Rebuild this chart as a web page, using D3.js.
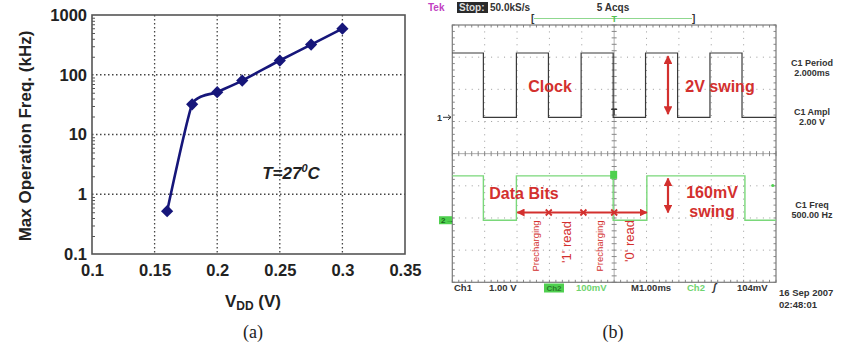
<!DOCTYPE html>
<html><head><meta charset="utf-8">
<script src="https://cdn.jsdelivr.net/npm/d3@7"></script>
<style>body{margin:0;background:#fff}svg{display:block}</style>
</head><body><svg id="c" width="841" height="347"></svg>
<script>
// ---------- (a) data ----------
const vdd = [0.16, 0.18, 0.2, 0.22, 0.25, 0.275, 0.3];
const freq = [0.52, 32, 51, 80, 173, 320, 590];
const xTicks = [0.1, 0.15, 0.2, 0.25, 0.3, 0.35];
const xTickLabels = ["0.1", "0.15", "0.2", "0.25", "0.3", "0.35"];
const yTicks = [0.1, 1, 10, 100, 1000];
const yTickLabels = ["0.1", "1", "10", "100", "1000"];

// ---------- (b) data (time in ms, 1 ms/div) ----------
const clockStarts = [-5, -4.04, -3.02, -2.03, -1.02, -0.03, 0.97, 1.96, 2.96, 3.95];
const clockLevels = [2, 0, 2, 0, 2, 0, 2, 0, 2, 0];      // V
const dataStarts = [-5, -4.04, -3.02, -0.03, 1.01, 4.04];
const dataLevels = [138, 0, 138, 0, 138, 0];              // mV
const phaseSpan = [-2.99, 1.01];
const phaseMarks = [-2.02, -0.95, 0];

const svg = d3.select("#c");
svg.append("rect").attr("width", 841).attr("height", 347).attr("fill", "#fff");

// ================= (a) =================
const x = d3.scaleLinear().domain([0.1, 0.35]).range([92, 405]);
const y = d3.scaleLog().domain([0.1, 1000]).range([254, 15]);
const A = svg.append("g");
const bold = "'Liberation Sans', Arial, sans-serif";

// grid
A.append("g").selectAll("line").data(xTicks.slice(1, -1)).join("line")
  .attr("x1", d => x(d)).attr("x2", d => x(d)).attr("y1", 15).attr("y2", 254)
  .attr("stroke", "#444").attr("stroke-width", 1.3).attr("stroke-dasharray", "1.5,2.5");
A.append("g").selectAll("line").data(yTicks.slice(1, -1)).join("line")
  .attr("y1", d => y(d)).attr("y2", d => y(d)).attr("x1", 92).attr("x2", 405)
  .attr("stroke", "#444").attr("stroke-width", 1.3).attr("stroke-dasharray", "1.5,2.5");

// minor ticks on y axis
const minors = [];
for (let e = -1; e < 3; e++) for (let m = 2; m <= 9; m++) minors.push(m * Math.pow(10, e));
A.append("g").attr("transform", "translate(92,0)")
  .call(d3.axisRight(y).tickValues(minors).tickSize(3).tickFormat(""))
  .call(g => g.select(".domain").remove())
  .selectAll("line").attr("stroke", "#555");

// frame
A.append("rect").attr("x", 92).attr("y", 15).attr("width", 313).attr("height", 239)
  .attr("fill", "none").attr("stroke", "#555").attr("stroke-width", 1.6);

// axes labels
const ax = A.append("g").attr("transform", "translate(0,254)")
  .call(d3.axisBottom(x).tickValues(xTicks).tickSize(0).tickPadding(10)
    .tickFormat((d, i) => xTickLabels[i]));
ax.select(".domain").remove();
ax.selectAll("text").attr("font-family", bold).attr("font-weight", "bold")
  .attr("font-size", 16.5).attr("fill", "#222");
const ay = A.append("g").attr("transform", "translate(92,0)")
  .call(d3.axisLeft(y).tickValues(yTicks).tickSize(0).tickPadding(5)
    .tickFormat((d, i) => yTickLabels[i]));
ay.select(".domain").remove();
ay.selectAll("text").attr("font-family", bold).attr("font-weight", "bold")
  .attr("font-size", 16.5).attr("fill", "#222");

// line & markers
const pts = vdd.map((v, i) => [v, freq[i]]);
A.append("path").datum(pts)
  .attr("d", d3.line().x(d => x(d[0])).y(d => y(d[1])).curve(d3.curveCardinal.tension(0.5)))
  .attr("fill", "none").attr("stroke", "#16167a").attr("stroke-width", 2.6);
A.append("g").selectAll("path").data(pts).join("path")
  .attr("d", d3.symbol(d3.symbolDiamond2, 95))
  .attr("transform", d => `translate(${x(d[0])},${y(d[1])})`)
  .attr("fill", "#16167a");

// titles
A.append("text").attr("transform", "translate(31,136) rotate(-90)")
  .attr("text-anchor", "middle").attr("font-family", bold).attr("font-weight", "bold")
  .attr("font-size", 17).attr("fill", "#222").text("Max Operation Freq. (kHz)");
const xl = A.append("text").attr("x", 253).attr("y", 307).attr("text-anchor", "middle")
  .attr("font-family", bold).attr("font-weight", "bold").attr("font-size", 17).attr("fill", "#222");
xl.append("tspan").text("V");
xl.append("tspan").attr("font-size", 12).attr("dy", 3).text("DD");
xl.append("tspan").attr("dy", -3).text(" (V)");
const tl = A.append("text").attr("x", 291).attr("y", 179).attr("text-anchor", "middle")
  .attr("font-family", bold).attr("font-weight", "bold").attr("font-style", "italic")
  .attr("font-size", 17).attr("fill", "#222");
tl.append("tspan").text("T=27");
tl.append("tspan").attr("font-size", 11).attr("dy", -7).text("0");
tl.append("tspan").attr("dy", 7).text("C");
A.append("text").attr("x", 253).attr("y", 338).attr("text-anchor", "middle")
  .attr("font-family", "'Liberation Serif', 'Times New Roman', serif").attr("font-size", 18)
  .attr("fill", "#222").text("(a)");

// ================= (b) =================
const sx = d3.scaleLinear().domain([-5, 5]).range([452.3, 776]);
const sy = d3.scaleLinear().domain([-4, 4]).range([282.3, 25]);
const ch1Off = 1.13, ch2Off = -2.07;
const y1 = v => sy(v / 1 + ch1Off);
const y2 = v => sy(v / 100 + ch2Off);
const B = svg.append("g");
const scopeFont = "'Liberation Sans', Arial, sans-serif";

// graticule
const divX = d3.range(-4, 5), divY = d3.range(-3, 4);
B.append("g").selectAll("line").data(divX.filter(d => d !== 0)).join("line")
  .attr("x1", d => sx(d)).attr("x2", d => sx(d)).attr("y1", sy(4)).attr("y2", sy(-4))
  .attr("stroke", "#9a9a9a").attr("stroke-width", 1).attr("stroke-dasharray", "1,5.43");
B.append("g").selectAll("line").data(divY.filter(d => d !== 0)).join("line")
  .attr("y1", d => sy(d)).attr("y2", d => sy(d)).attr("x1", sx(-5)).attr("x2", sx(5))
  .attr("stroke", "#9a9a9a").attr("stroke-width", 1).attr("stroke-dasharray", "1,5.47");
// centre axes with ticks
B.append("line").attr("x1", sx(0)).attr("x2", sx(0)).attr("y1", sy(4)).attr("y2", sy(-4))
  .attr("stroke", "#999").attr("stroke-width", 0.8);
B.append("line").attr("y1", sy(0)).attr("y2", sy(0)).attr("x1", sx(-5)).attr("x2", sx(5))
  .attr("stroke", "#999").attr("stroke-width", 0.8);
const subX = d3.range(-25, 26).map(i => i / 5), subY = d3.range(-20, 21).map(i => i / 5);
B.append("g").selectAll("line").data(subX).join("line")
  .attr("x1", d => sx(d)).attr("x2", d => sx(d)).attr("y1", sy(0) - 2.5).attr("y2", sy(0) + 2.5)
  .attr("stroke", "#888");
B.append("g").selectAll("line").data(subY).join("line")
  .attr("y1", d => sy(d)).attr("y2", d => sy(d)).attr("x1", sx(0) - 2.5).attr("x2", sx(0) + 2.5)
  .attr("stroke", "#888");
// border ticks
B.append("g").selectAll("line").data(subX).join("line")
  .attr("x1", d => sx(d)).attr("x2", d => sx(d)).attr("y1", sy(4)).attr("y2", sy(4) + 2.5)
  .attr("stroke", "#888");
B.append("g").selectAll("line").data(subX).join("line")
  .attr("x1", d => sx(d)).attr("x2", d => sx(d)).attr("y1", sy(-4)).attr("y2", sy(-4) - 2.5)
  .attr("stroke", "#888");
B.append("g").selectAll("line").data(subY).join("line")
  .attr("y1", d => sy(d)).attr("y2", d => sy(d)).attr("x1", sx(-5)).attr("x2", sx(-5) + 2.5)
  .attr("stroke", "#888");
B.append("g").selectAll("line").data(subY).join("line")
  .attr("y1", d => sy(d)).attr("y2", d => sy(d)).attr("x1", sx(5)).attr("x2", sx(5) - 2.5)
  .attr("stroke", "#888");
B.append("rect").attr("x", sx(-5)).attr("y", sy(4)).attr("width", sx(5) - sx(-5))
  .attr("height", sy(-4) - sy(4)).attr("fill", "none").attr("stroke", "#7a7a7a").attr("stroke-width", 1.2);

// waveforms
const stepLine = (starts, levels, yf) => {
  const p = starts.map((t, i) => [t, levels[i]]);
  p.push([5, levels[levels.length - 1]]);
  return d3.line().x(d => sx(d[0])).y(d => yf(d[1])).curve(d3.curveStepAfter)(p);
};
B.append("path").attr("d", stepLine(dataStarts, dataLevels, y2))
  .attr("fill", "none").attr("stroke", "#7ad87a").attr("stroke-width", 1.4);
B.append("path").attr("d", stepLine(clockStarts, clockLevels, y1))
  .attr("fill", "none").attr("stroke", "#3a3a3a").attr("stroke-width", 1.2);

// channel markers
B.append("text").attr("x", 437).attr("y", y1(0) + 3.5).attr("font-family", scopeFont)
  .attr("font-size", 9).attr("font-weight", "bold").attr("fill", "#333").text("1");
B.append("path").attr("d", `M443,${y1(0)} L451,${y1(0)} M448,${y1(0) - 2.5} L451,${y1(0)} L448,${y1(0) + 2.5}`)
  .attr("stroke", "#333").attr("fill", "none");
B.append("rect").attr("x", 439).attr("y", y2(0) - 4).attr("width", 13).attr("height", 8).attr("fill", "#4fd04f");
B.append("text").attr("x", 441).attr("y", y2(0) + 3).attr("font-family", scopeFont)
  .attr("font-size", 8).attr("font-weight", "bold").attr("fill", "#1a6a1a").text("2→");
// trigger markers
B.append("rect").attr("x", sx(0) - 4).attr("y", y2(138) - 5).attr("width", 7).attr("height", 8).attr("fill", "#4fd04f");
B.append("path").attr("d", `M${sx(0) - 3},${y1(0) - 8} L${sx(0) + 3},${y1(0) - 8} M${sx(0)},${y1(0) - 8} L${sx(0)},${y1(0) - 2}`)
  .attr("stroke", "#333").attr("stroke-width", 1.2);
B.append("circle").attr("cx", sx(4.9)).attr("cy", y2(108)).attr("r", 1.6).attr("fill", "#4fd04f");

// top header
B.append("text").attr("x", 428).attr("y", 11).attr("font-family", scopeFont).attr("font-weight", "bold")
  .attr("font-size", 10).attr("fill", "#c23fc2").text("Tek");
B.append("rect").attr("x", 457).attr("y", 2).attr("width", 31).attr("height", 11).attr("fill", "#2a2a2a");
B.append("text").attr("x", 459).attr("y", 11).attr("font-family", scopeFont).attr("font-weight", "bold")
  .attr("font-size", 10).attr("fill", "#ddd").text("Stop:");
B.append("text").attr("x", 490).attr("y", 11).attr("font-family", scopeFont).attr("font-weight", "bold")
  .attr("font-size", 10).attr("fill", "#333").text("50.0kS/s");
B.append("text").attr("x", 613).attr("y", 11).attr("text-anchor", "middle").attr("font-family", scopeFont)
  .attr("font-weight", "bold").attr("font-size", 10).attr("fill", "#333").text("5 Acqs");
B.append("line").attr("x1", 534).attr("x2", 692).attr("y1", 18.5).attr("y2", 18.5)
  .attr("stroke", "#8fd88f").attr("stroke-width", 1);
B.append("text").attr("x", 531).attr("y", 22).attr("font-family", scopeFont).attr("font-weight", "bold")
  .attr("font-size", 10).attr("fill", "#333").text("[");
B.append("text").attr("x", 692).attr("y", 22).attr("font-family", scopeFont).attr("font-weight", "bold")
  .attr("font-size", 10).attr("fill", "#333").text("]");
B.append("text").attr("x", sx(0)).attr("y", 22).attr("text-anchor", "middle").attr("font-family", scopeFont)
  .attr("font-weight", "bold").attr("font-size", 9).attr("fill", "#4fc04f").text("T");

// right readouts
const rightLabels = [["C1 Period", 66], ["2.000ms", 76], ["C1 Ampl", 115], ["2.00 V", 125],
  ["C1 Freq", 208], ["500.00 Hz", 218]];
B.append("g").selectAll("text").data(rightLabels).join("text")
  .attr("x", 812).attr("y", d => d[1]).attr("text-anchor", "middle")
  .attr("font-family", scopeFont).attr("font-weight", "bold").attr("font-size", 9)
  .attr("fill", "#333").text(d => d[0]);

// bottom readouts
const bot = [["Ch1", 454, "#333"], ["1.00 V", 489, "#333"], ["100mV", 576, "#6fd46f"],
  ["M1.00ms", 631, "#333"], ["Ch2", 687, "#6fd46f"], ["104mV", 737, "#333"]];
B.append("rect").attr("x", 544).attr("y", 283.5).attr("width", 20).attr("height", 9).attr("fill", "#4fd04f");
B.append("text").attr("x", 554).attr("y", 291).attr("text-anchor", "middle").attr("font-family", scopeFont)
  .attr("font-weight", "bold").attr("font-size", 8).attr("fill", "#2a7a2a").text("Ch2");
B.append("g").selectAll("text").data(bot).join("text")
  .attr("x", d => d[1]).attr("y", 291).attr("font-family", scopeFont).attr("font-weight", "bold")
  .attr("font-size", 9.5).attr("fill", d => d[2]).text(d => d[0]);
B.append("text").attr("x", 713).attr("y", 291).attr("font-family", scopeFont).attr("font-style", "italic")
  .attr("font-weight", "bold").attr("font-size", 10).attr("fill", "#333").text("ʃ");
B.append("text").attr("x", 779).attr("y", 296).attr("font-family", scopeFont).attr("font-weight", "bold")
  .attr("font-size", 9.5).attr("fill", "#333").text("16 Sep 2007");
B.append("text").attr("x", 779).attr("y", 308).attr("font-family", scopeFont).attr("font-weight", "bold")
  .attr("font-size", 9.5).attr("fill", "#333").text("02:48:01");

// annotations
const red = "#d3302e";
const defs = svg.append("defs");
defs.append("marker").attr("id", "ah").attr("viewBox", "0 0 10 10").attr("refX", 9).attr("refY", 5)
  .attr("markerWidth", 4).attr("markerHeight", 4).attr("orient", "auto-start-reverse")
  .append("path").attr("d", "M0,0 L10,5 L0,10 z").attr("fill", red);
const ann = (t, xx, yy, size) => B.append("text").attr("x", xx).attr("y", yy).attr("text-anchor", "middle")
  .attr("font-family", bold).attr("font-weight", "bold").attr("font-size", size).attr("fill", red).text(t);
ann("Clock", 550, 92, 16);
ann("2V swing", 720, 92, 16);
ann("Data Bits", 524, 199, 16);
ann("160mV", 712, 198, 16);
ann("swing", 712, 217, 16);
B.append("line").attr("x1", 668).attr("x2", 668).attr("y1", y1(1.9)).attr("y2", y1(0.1))
  .attr("stroke", red).attr("stroke-width", 2.2)
  .attr("marker-start", "url(#ah)").attr("marker-end", "url(#ah)");
B.append("line").attr("x1", 668).attr("x2", 668).attr("y1", y2(130)).attr("y2", y2(24))
  .attr("stroke", red).attr("stroke-width", 2.2)
  .attr("marker-start", "url(#ah)").attr("marker-end", "url(#ah)");
const ay2 = 212.5;
B.append("line").attr("x1", sx(phaseSpan[0])).attr("x2", sx(phaseSpan[1])).attr("y1", ay2).attr("y2", ay2)
  .attr("stroke", red).attr("stroke-width", 2)
  .attr("marker-start", "url(#ah)").attr("marker-end", "url(#ah)");
B.append("g").selectAll("path").data(phaseMarks).join("path")
  .attr("d", d => `M${sx(d) - 3},${ay2 - 3} L${sx(d) + 3},${ay2 + 3} M${sx(d) - 3},${ay2 + 3} L${sx(d) + 3},${ay2 - 3}`)
  .attr("stroke", red).attr("stroke-width", 1.8);
const vtext = (t, xx, yy, size) => B.append("text")
  .attr("transform", `translate(${xx},${yy}) rotate(-90)`).attr("text-anchor", "middle")
  .attr("dominant-baseline", "central")
  .attr("font-family", bold).attr("font-size", size).attr("fill", red).text(t);
vtext("Precharging", 535, 246, 9.5);
vtext("'1' read", 566, 242, 13);
vtext("Precharging", 599, 246, 9.5);
vtext("'0' read", 629, 241, 13);

B.append("text").attr("x", 613).attr("y", 338).attr("text-anchor", "middle")
  .attr("font-family", "'Liberation Serif', 'Times New Roman', serif").attr("font-size", 18)
  .attr("fill", "#222").text("(b)");
</script></body></html>
